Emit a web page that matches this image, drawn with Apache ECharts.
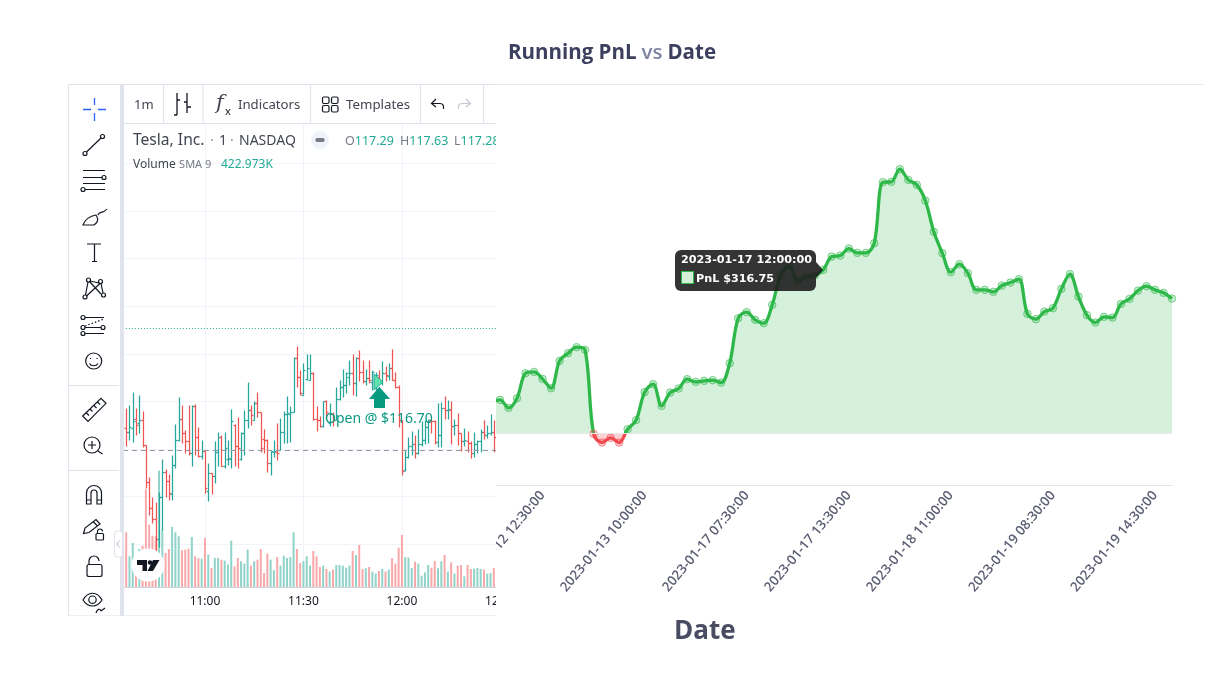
<!DOCTYPE html>
<html>
<head>
<meta charset="utf-8">
<script src="https://cdn.jsdelivr.net/npm/echarts@6/dist/echarts.min.js"></script>
<style>
  html, body { margin: 0; padding: 0; background: #fff; }
  #pnl { position: absolute; left: 0; top: 0; width: 1218px; height: 681px; }
  #tv { position: absolute; left: 68px; top: 84px; width: 428px; height: 532px; overflow: hidden; background: #fff; z-index: 2; }
  #tvChart { position: absolute; left: 0; top: 0; width: 540px; height: 532px; }
  #icons { position: absolute; left: 0; top: 0; width: 428px; height: 532px; pointer-events: none; }
  #icons .i { fill: none; stroke: #131722; stroke-width: 1.2; }
</style>
</head>
<body>
<div id="pnl"></div>
<div id="tv">
  <div id="tvChart"></div>
  <!-- toolbar icons, panel borders, logo. Drawn in page coordinates -->
  <svg id="icons" viewBox="68 84 428 532">
    <path d="M68.5 84V616H496M68 84.5H496" fill="none" stroke="#e0e3eb"/>
    <rect x="120" y="84" width="4" height="532" fill="#e0e3eb"/>
    <path d="M124 123.5H496M163.5 84V123M203 84V123M310.5 84V123M420.5 84V123M483.5 84V123M69 385.5H119M69 470.5H119" stroke="#e0e3eb" fill="none"/>
    <rect x="114.5" y="531" width="8" height="26" rx="3" fill="#fff" stroke="#e0e3eb"/>
    <path d="M119.5 540.5L117 544L119.5 547.5" fill="none" stroke="#b2b5be"/>
    <path d="M83 109.5H91M98 109.5H106M94.5 98V105M94.5 113V121" stroke="#2962ff" stroke-width="1.3" fill="none"/>
    <g class="i">
      <circle cx="85" cy="153.5" r="2"/><circle cx="102.5" cy="136.5" r="2"/><path d="M86.5 152L101 138"/>
      <path d="M83 170.5H105M83 177.5H102M83 183.5H105M85 189.5H105"/><circle cx="104" cy="177.5" r="2"/><circle cx="83" cy="189.5" r="2"/>
      <path d="M83 225C85 220 90 216 96 215C98 218 99 222 94 225ZM98 215C99 211 103 214 107 209"/>
      <path d="M87 244H101M94.5 244V261.5M92 261.5H97"/>
      <circle cx="88.5" cy="280" r="2"/><circle cx="100.5" cy="281.5" r="2"/><circle cx="85" cy="297" r="2"/><circle cx="103.5" cy="295" r="2"/>
      <path d="M88 282L85.5 295M89.5 281.5L101 294M100 283.5L86.5 296M101 283.5L103 293M90 281L99 283"/>
      <path d="M85 317.5H104M85 327.5H101M85 333.5H104"/><path d="M85 326L104 319" stroke-dasharray="1.5 2"/>
      <circle cx="83" cy="317.5" r="2"/><circle cx="83" cy="327.5" r="2"/><circle cx="83" cy="333.5" r="2"/><circle cx="103" cy="327.5" r="2"/>
      <circle cx="93.7" cy="361" r="8"/><path d="M89.5 363.5C91 366.5 96.5 366.5 98 363.5M90.5 358V359M97 358V359"/>
      <path d="M82.7 416L101 398.3L106 403.3L88 421.3ZM86.5 413L89 415.5M90 409L92.5 411.5M94 405.5L96.5 408M97.5 402L100 404.5"/>
      <circle cx="92" cy="445" r="8"/><path d="M98 451L102.5 454M88 445H96M92 441V449"/>
      <path d="M86.5 504V493A7.5 7.5 0 0 1 101.5 493V504H97V493A3 3 0 0 0 91 493V504ZM86.5 500H91M97 500H101.5"/>
      <path d="M83.5 533.5L85 528L96 519.5L100 524L89 532.5ZM93.5 522L97.5 526"/>
      <rect x="96" y="533.5" width="7.5" height="6.5" rx="1"/><path d="M97.5 533.5V531.5A2.5 2.5 0 0 1 102.5 531.5"/>
      <rect x="87" y="564.5" width="15" height="12" rx="2"/><path d="M89 564.5V561A5 5 0 0 1 99 561"/>
      <path d="M83 600C88 591 97 591 102 600C97 608 88 608 83 600Z"/><circle cx="92.5" cy="599.7" r="3.7"/>
      <path d="M96 613C97 609 100 608 101 611M101 611L105 608"/>
      <path d="M177 93V115M174 115H177M177 100H180M187 93V113M184 102H187M187 107H191" stroke-width="1.3"/>
      <rect x="322.5" y="97" width="6.5" height="6.5" rx="1.5"/><rect x="331.5" y="97" width="6.5" height="6.5" rx="1.5"/>
      <rect x="322.5" y="105.5" width="6.5" height="6.5" rx="1.5"/><rect x="331.5" y="105.5" width="6.5" height="6.5" rx="1.5"/>
      <path d="M436 99L431.5 103.5L436 107M432 103.5H440C443 103.5 444 106 443.5 109"/>
      <path d="M466 99L470.5 103.5L466 107M470 103.5H462C459 103.5 458 106 458.5 109" stroke="#c4c7cf"/>
    </g>
    <circle cx="320" cy="140" r="9" fill="#f0f3fa"/>
    <rect x="315.5" y="138" width="9" height="4" rx="1.5" fill="#787b86"/>
    <circle cx="148" cy="565" r="16.5" fill="#fff"/>
    <path d="M137 560H147V571H142.5V565H137ZM153 560H159.5L153 571H147.5Z" fill="#131722"/>
    <circle cx="150" cy="562.5" r="2.3" fill="#131722"/>
    <path d="M374 374L383 382L374 390Z" fill="#5fe3ae" stroke="#26a69a"/>
    <path d="M379.3 386.7L390 399H385V408H374V399H369Z" fill="#089981"/>
  </svg>
</div>
<script>
// ---- PnL chart data ----
const pnlDates = [
  '2023-01-12 09:30:00','2023-01-12 10:00:00','2023-01-12 10:30:00','2023-01-12 11:00:00','2023-01-12 11:30:00','2023-01-12 12:00:00','2023-01-12 12:30:00',
  '2023-01-12 13:00:00','2023-01-12 13:30:00','2023-01-12 14:00:00','2023-01-12 14:30:00','2023-01-12 15:00:00','2023-01-12 15:30:00','2023-01-12 16:00:00',
  '2023-01-13 08:00:00','2023-01-13 08:30:00','2023-01-13 09:00:00','2023-01-13 09:30:00','2023-01-13 10:00:00','2023-01-13 10:30:00','2023-01-13 11:00:00',
  '2023-01-13 11:30:00','2023-01-13 12:00:00','2023-01-13 12:30:00','2023-01-13 13:00:00','2023-01-13 13:30:00','2023-01-13 14:00:00',
  '2023-01-17 06:00:00','2023-01-17 06:30:00','2023-01-17 07:00:00','2023-01-17 07:30:00','2023-01-17 08:00:00','2023-01-17 08:30:00','2023-01-17 09:00:00',
  '2023-01-17 09:30:00','2023-01-17 10:00:00','2023-01-17 10:30:00','2023-01-17 11:00:00','2023-01-17 11:30:00','2023-01-17 12:00:00','2023-01-17 12:30:00',
  '2023-01-17 13:00:00','2023-01-17 13:30:00','2023-01-17 14:00:00','2023-01-17 14:30:00','2023-01-17 15:00:00','2023-01-17 15:30:00','2023-01-17 16:00:00',
  '2023-01-18 08:00:00','2023-01-18 08:30:00','2023-01-18 09:00:00','2023-01-18 09:30:00','2023-01-18 10:00:00','2023-01-18 10:30:00','2023-01-18 11:00:00',
  '2023-01-18 11:30:00','2023-01-18 12:00:00','2023-01-18 12:30:00','2023-01-18 13:00:00','2023-01-18 13:30:00','2023-01-18 14:00:00','2023-01-18 14:30:00',
  '2023-01-18 15:00:00','2023-01-18 15:30:00','2023-01-18 16:00:00',
  '2023-01-19 08:00:00','2023-01-19 08:30:00','2023-01-19 09:00:00','2023-01-19 09:30:00','2023-01-19 10:00:00','2023-01-19 10:30:00','2023-01-19 11:00:00',
  '2023-01-19 11:30:00','2023-01-19 12:00:00','2023-01-19 12:30:00','2023-01-19 13:00:00','2023-01-19 13:30:00','2023-01-19 14:00:00','2023-01-19 14:30:00',
  '2023-01-19 15:00:00','2023-01-19 15:30:00'
];
const pnlValues = [
  61, 64.9, 49.4, 68.1, 116.5, 119.1, 105.6, 87.5, 140.4, 155.3, 167, 161.7, -1, -17.8, -8.7, -17.8, 8.1, 25.6, 79.8, 95.3,
  53.3, 79, 86.8, 105, 99.8, 101.7, 103, 98.4, 136, 223.1, 234.8, 219.9, 213.4, 248.9, 307, 324.4, 296, 303.7, 305.7, 316.75,
  342.5, 344.4, 358, 349.6, 349.6, 368.4, 486.6, 487.2, 511.8, 491, 481.3, 451, 390.3, 349, 312.2, 327.7, 310.3, 278, 278, 274.1,
  286.3, 292.1, 298.7, 231.5, 221.2, 235.9, 242.5, 279.9, 308.4, 265, 229, 214.6, 225.7, 224.3, 250.8, 260.5, 276.6, 285.1, 278, 272.2, 261.1
];
const hoveredIndex = 39;

// ---- Tesla 1m bars ----
const tvTimes = [
  '10:35','10:36','10:37','10:38','10:39','10:40','10:41','10:42','10:43','10:44','10:45','10:46','10:47','10:48','10:49','10:50','10:51','10:52','10:53','10:54','10:55','10:56','10:57','10:58','10:59',
  '11:00','11:01','11:02','11:03','11:04','11:05','11:06','11:07','11:08','11:09','11:10','11:11','11:12','11:13','11:14','11:15','11:16','11:17','11:18','11:19','11:20','11:21','11:22','11:23','11:24','11:25','11:26','11:27','11:28','11:29',
  '11:30','11:31','11:32','11:33','11:34','11:35','11:36','11:37','11:38','11:39','11:40','11:41','11:42','11:43','11:44','11:45','11:46','11:47','11:48','11:49','11:50','11:51','11:52','11:53','11:54','11:55','11:56','11:57','11:58','11:59',
  '12:00','12:01','12:02','12:03','12:04','12:05','12:06','12:07','12:08','12:09','12:10','12:11','12:12','12:13','12:14','12:15','12:16','12:17','12:18','12:19','12:20','12:21','12:22','12:23','12:24','12:25','12:26','12:27','12:28','12:29','12:30'
];
// the bars start at 10:36
const opens = [
  117.22,117.18,117.22,117.32,117.27,117.31,117.04,116.65,116.38,116.27,116.06,116.50,116.76,116.66,116.53,116.83,117.10,117.32,117.17,117.08,
  116.96,117.45,117.13,116.93,116.98,116.56,116.75,116.72,116.97,117.13,116.82,116.90,116.90,117.25,117.03,116.90,117.17,117.31,117.41,117.31,
  117.48,117.39,117.11,117.10,116.85,116.97,116.97,116.99,117.18,117.37,117.37,117.39,117.96,117.76,117.57,117.74,117.73,117.80,117.32,117.31,
  117.24,117.50,117.27,117.37,117.31,117.53,117.65,117.67,117.76,117.80,117.69,117.96,117.81,117.71,117.75,117.70,117.73,117.76,117.71,117.80,
  117.77,117.85,117.73,117.65,117.31,116.78,116.92,117.03,117.05,116.96,117.05,117.10,117.23,117.31,117.29,117.07,117.15,117.43,117.41,117.41,
  117.24,117.25,117.17,117.08,117.08,117.06,116.96,117.05,117.08,117.18,117.15,117.17,117.18
];
const highs = [
  117.43,117.46,117.60,117.43,117.57,117.40,117.04,116.71,116.50,116.44,116.55,116.90,116.79,116.74,116.94,117.26,117.55,117.46,117.20,117.46,
  117.46,117.47,117.23,117.10,116.98,116.85,116.75,117.08,117.18,117.15,117.18,117.10,117.42,117.26,117.34,117.18,117.41,117.70,117.46,117.50,
  117.60,117.39,117.21,117.11,116.98,117.10,117.27,117.33,117.40,117.56,117.45,117.97,118.08,117.83,117.90,118.00,118.00,117.81,117.45,117.35,
  117.50,117.51,117.48,117.39,117.65,117.72,117.84,117.81,117.93,118.00,117.97,118.04,117.93,117.84,117.94,117.83,117.81,117.83,117.92,117.87,
  117.90,118.05,117.81,117.67,117.31,116.99,117.13,117.19,117.15,117.21,117.29,117.31,117.32,117.32,117.31,117.48,117.49,117.56,117.52,117.50,
  117.32,117.38,117.17,117.22,117.19,117.08,117.18,117.10,117.21,117.31,117.25,117.37,117.31
];
const lows = [
  117.03,117.10,117.07,117.15,117.17,117.02,116.59,116.31,116.22,115.91,115.97,116.15,116.50,116.46,116.47,116.80,117.08,117.06,116.96,116.94,
  116.82,116.94,116.92,116.90,116.54,116.45,116.53,116.64,116.82,116.82,116.80,116.83,116.80,116.82,116.80,116.89,116.94,117.22,117.25,117.30,
  117.34,116.97,116.96,116.76,116.73,116.92,116.88,116.99,117.06,117.06,117.07,117.39,117.65,117.57,117.57,117.73,117.73,117.31,117.19,117.23,
  117.23,117.32,117.24,117.24,117.30,117.51,117.55,117.59,117.67,117.57,117.56,117.71,117.69,117.67,117.69,117.62,117.62,117.69,117.67,117.71,
  117.73,117.72,117.64,117.23,116.73,116.77,116.91,116.94,116.91,116.95,117.03,117.05,117.06,117.17,117.05,117.02,117.02,117.32,117.32,117.05,
  117.15,117.04,116.98,117.03,116.97,116.91,116.92,116.96,116.97,117.11,117.12,117.15,116.97
];
const closes = [
  117.18,117.23,117.29,117.25,117.31,117.04,116.65,116.38,116.27,116.06,116.50,116.76,116.66,116.54,116.83,117.10,117.32,117.17,117.08,116.96,
  117.45,117.13,116.93,116.98,116.59,116.75,116.72,116.97,117.13,116.82,117.01,116.91,117.29,117.03,117.01,117.17,117.31,117.41,117.36,117.48,
  117.39,117.01,117.10,116.85,116.98,116.98,116.96,117.18,117.37,117.38,117.39,117.96,117.76,117.59,117.83,117.85,117.80,117.32,117.31,117.24,
  117.50,117.39,117.37,117.31,117.53,117.65,117.67,117.80,117.80,117.69,117.96,117.81,117.71,117.75,117.73,117.81,117.78,117.71,117.80,117.78,
  117.85,117.72,117.65,117.31,116.77,116.92,117.03,117.05,116.96,117.05,117.10,117.23,117.31,117.29,117.07,117.15,117.43,117.41,117.42,117.24,
  117.25,117.17,117.08,117.10,117.06,116.96,117.05,117.08,117.18,117.15,117.17,117.18,117.13
];
const volumes = [
  766,430,616,406,532,579,1364,873,719,710,1630,803,476,532,841,766,710,514,523,537,
  700,430,402,397,686,453,266,406,406,383,369,313,649,290,406,360,327,523,299,360,
  383,532,196,467,383,234,420,299,439,406,420,766,532,336,364,430,299,504,430,280,
  299,252,215,243,308,308,299,271,299,504,448,588,252,262,280,215,187,224,252,215,
  243,406,327,551,729,420,411,266,355,327,159,205,308,271,364,262,360,448,215,346,
  187,299,308,149,308,252,257,266,252,243,187,196,266
];
const dashedPrice = 116.99;
const dottedPrice = 118.27;

// ---- PnL chart ----
const GREEN = '#2eb84a';
const RED = '#f4484f';
const GRID_TOP = 123.6;
const GRID_H = 361.4;
const Y_MIN = -100;
const Y_MAX = 600;
// Split the gradient at the zero line so the part below it turns red
const zeroY = GRID_TOP + GRID_H * Y_MAX / (Y_MAX - Y_MIN);
const splitAtZero = (above, below) => ({
  type: 'linear', x: 0, y: GRID_TOP, x2: 0, y2: GRID_TOP + GRID_H, global: true,
  colorStops: [
    { offset: 0, color: above },
    { offset: (zeroY - GRID_TOP) / GRID_H, color: above },
    { offset: (zeroY - GRID_TOP) / GRID_H, color: below },
    { offset: 1, color: below }
  ]
});

const pnl = echarts.init(document.getElementById('pnl'));
pnl.setOption({
  animation: false,
  title: [
    {
      text: '{a|Running PnL} {b|vs} {a|Date}',
      left: 503,
      top: 38,
      textStyle: {
        rich: {
          a: { fontFamily: 'Open Sans', fontWeight: 700, fontSize: 20.5, color: '#3c3f5e' },
          b: { fontFamily: 'Open Sans', fontWeight: 600, fontSize: 20.5, color: '#7e84a3' }
        }
      }
    },
    {
      text: 'Date',
      left: 669,
      top: 614,
      textStyle: { fontFamily: 'Open Sans', fontWeight: 700, fontSize: 26, color: '#4a4c63' }
    }
  ],
  graphic: [{
    type: 'line',
    shape: { x1: 68, y1: 84.5, x2: 1204, y2: 84.5 },
    style: { stroke: '#e6e8ec', lineWidth: 1 }
  }],
  grid: { left: 491.5, right: 46, top: GRID_TOP, height: GRID_H },
  xAxis: {
    type: 'category',
    data: pnlDates,
    boundaryGap: false,
    axisLine: { onZero: false, lineStyle: { color: '#e4e4e7' } },
    axisTick: { show: false },
    axisLabel: {
      rotate: 50,
      margin: 8,
      interval: (i) => i % 12 === 6,
      color: '#5c5e73',
      fontFamily: 'Open Sans',
      fontWeight: 600,
      fontSize: 13.4
    }
  },
  yAxis: { type: 'value', min: Y_MIN, max: Y_MAX, interval: 100, show: false },
  tooltip: {
    trigger: 'item',
    alwaysShowContent: true,
    transitionDuration: 0,
    position: () => [675, 250],
    backgroundColor: 'rgba(30,30,30,0.9)',
    borderWidth: 0,
    padding: [1, 6],
    textStyle: { color: '#fff', fontFamily: 'DejaVu Sans', fontWeight: 700, fontSize: 11.2 },
    extraCssText: 'width:141px;height:41px;box-sizing:border-box;border-radius:6px;box-shadow:none;line-height:18.5px;',
    formatter: (p) =>
      '<div style="position:absolute;left:100%;top:12px;border:8px solid transparent;border-left:7px solid rgba(30,30,30,0.9);border-right:0"></div>' +
      p.name + '<br><span style="display:inline-block;width:11px;height:11px;background:#d5f0d9;border:1px solid ' + GREEN +
      ';vertical-align:-2px;margin-right:2px"></span>PnL $' + p.value.toFixed(2)
  },
  series: [{
    type: 'line',
    data: pnlValues.map((v) => (v < 0
      ? { value: v, itemStyle: { color: 'rgba(244,72,79,0.25)', borderColor: 'rgba(244,72,79,0.6)' } }
      : v)),
    smooth: 0.35,
    symbol: 'circle',
    symbolSize: 7.5,
    showAllSymbol: true,
    lineStyle: { width: 3.3, color: splitAtZero(GREEN, RED) },
    itemStyle: { color: 'rgba(46,184,74,0.25)', borderColor: 'rgba(46,184,74,0.6)', borderWidth: 1 },
    areaStyle: { color: splitAtZero('rgba(46,184,74,0.2)', 'rgba(244,72,79,0.25)'), opacity: 1 },
    emphasis: { scale: false },
    markLine: {
      silent: true,
      symbol: 'none',
      label: { show: false },
      lineStyle: { color: '#e8e8e8', type: 'solid', width: 1 },
      data: [{ yAxis: 0 }]
    },
    z: 3
  }]
});
pnl.dispatchAction({ type: 'showTip', seriesIndex: 0, dataIndex: hoveredIndex });

// ---- TradingView panel, page x/y minus the panel offset (68, 84) ----
const UP = '#26a69a';
const DOWN = '#ef5350';
const tickAt = (i, v) => v.endsWith(':00') || v.endsWith(':30');
const tvText = (text, x, y, style) => ({
  type: 'text', x: x - 68, y: y - 84, z: 20,
  style: Object.assign({ text, fontFamily: 'Noto Sans', fontSize: 13, fill: '#131722', verticalAlign: 'middle' }, style)
});
const ohlcRich = {
  g: { fontFamily: 'Noto Sans', fontSize: 12.5, fill: '#787b86' },
  t: { fontFamily: 'Noto Sans', fontSize: 12.5, fill: '#22ab94' }
};

const tv = echarts.init(document.getElementById('tvChart'));
tv.setOption({
  animation: false,
  grid: [
    { left: 54.9, width: 377.5, top: 31.7, height: 476.2 },
    { left: 54.9, width: 377.5, top: 353, height: 150 }
  ],
  xAxis: [
    {
      type: 'category', gridIndex: 0, data: tvTimes, boundaryGap: false,
      axisLine: { show: false }, axisTick: { show: false }, axisLabel: { show: false },
      splitLine: { show: true, interval: tickAt, lineStyle: { color: '#f0f3fa' } }
    },
    {
      type: 'category', gridIndex: 1, data: tvTimes, boundaryGap: false, z: 30,
      axisLine: { lineStyle: { color: '#d1d4dc' } }, axisTick: { show: false },
      axisLabel: { interval: tickAt, margin: 9, color: '#131722', fontFamily: 'Noto Sans', fontSize: 12 }
    }
  ],
  yAxis: [
    {
      type: 'value', gridIndex: 0, min: 115.5, max: 120.5, interval: 0.5,
      axisLine: { show: false }, axisTick: { show: false }, axisLabel: { show: false },
      splitLine: { lineStyle: { color: '#f0f3fa' } }
    },
    { type: 'value', gridIndex: 1, min: 0, max: 2100, show: false }
  ],
  series: [
    {
      type: 'bar',
      xAxisIndex: 1,
      yAxisIndex: 1,
      barWidth: 2,
      data: [null].concat(volumes.map((v, i) => ({
        value: v,
        itemStyle: { color: closes[i] >= opens[i] ? '#8fd3c9' : '#f9a8aa' }
      }))),
      z: 2
    },
    {
      type: 'custom',
      xAxisIndex: 0,
      yAxisIndex: 0,
      data: opens.map((o, i) => [i + 1, o, highs[i], lows[i], closes[i]]),
      encode: { x: 0, y: [1, 2, 3, 4] },
      renderItem: (params, api) => {
        const i = api.value(0);
        const x = Math.round(api.coord([i, 0])[0]) + 0.5;
        const py = (v) => Math.round(api.coord([i, v])[1]) + 0.5;
        const stroke = api.value(4) >= api.value(1) ? UP : DOWN;
        const seg = (x1, y1, x2, y2) => ({
          type: 'line', shape: { x1, y1, x2, y2 }, style: { stroke, lineWidth: 1.25, fill: null }
        });
        return {
          type: 'group',
          children: [
            seg(x, py(api.value(2)), x, py(api.value(3))),
            seg(x - 2, py(api.value(1)), x, py(api.value(1))),
            seg(x, py(api.value(4)), x + 2, py(api.value(4)))
          ]
        };
      },
      markLine: {
        silent: true,
        symbol: 'none',
        label: { show: false },
        animation: false,
        data: [
          { yAxis: dashedPrice, lineStyle: { color: '#9598a1', type: [5, 4], width: 1 } },
          { yAxis: dottedPrice, lineStyle: { color: '#22ab94', type: [1, 2], width: 1 } }
        ]
      },
      z: 3
    }
  ],
  graphic: [
    // keep the price grid lines out of the top bar and the time axis
    { type: 'rect', shape: { x: 54, y: 0, width: 486, height: 39 }, style: { fill: '#fff' }, z: 10 },
    { type: 'rect', shape: { x: 54, y: 504, width: 486, height: 28 }, style: { fill: '#fff' }, z: 10 },
    tvText('1m', 134, 105, { fontSize: 13, fill: '#434651' }),
    { type: 'text', x: 148, y: 9, z: 20, style: { text: 'f', fontFamily: 'DejaVu Serif', fontStyle: 'italic', fontSize: 21, fill: '#434651' } },
    { type: 'text', x: 157, y: 22, z: 20, style: { text: 'x', fontFamily: 'Noto Sans', fontSize: 11, fill: '#131722' } },
    tvText('Indicators', 238, 105, { fontSize: 13.2, fill: '#434651' }),
    tvText('Templates', 346, 105, { fontSize: 13.3, fill: '#434651' }),
    tvText('Tesla, Inc.', 133, 141, { fontSize: 15.6, fill: '#434651' }),
    tvText('·', 210, 141, { fontSize: 14, fill: '#9598a1' }),
    tvText('1', 219, 141, { fontSize: 14, fill: '#434651' }),
    tvText('·', 230, 141, { fontSize: 14, fill: '#9598a1' }),
    tvText('NASDAQ', 239, 141, { fontSize: 14, fill: '#434651' }),
    tvText('{g|O}{t|117.29}', 345, 141, { rich: ohlcRich }),
    tvText('{g|H}{t|117.63}', 400, 141, { rich: ohlcRich }),
    tvText('{g|L}{t|117.28}', 454, 141, { rich: ohlcRich }),
    tvText('{v|Volume} {s|SMA 9}', 133, 164.5, {
      rich: {
        v: { fontFamily: 'Noto Sans', fontSize: 12, fill: '#434651' },
        s: { fontFamily: 'Noto Sans', fontSize: 11, fill: '#787b86' }
      }
    }),
    tvText('422.973K', 221, 164.5, { fontSize: 12, fill: '#22ab94' }),
    tvText('Open @ $116.70', 325, 419, { fontSize: 14, fill: '#089981' })
  ]
});
</script>
</body>
</html>
